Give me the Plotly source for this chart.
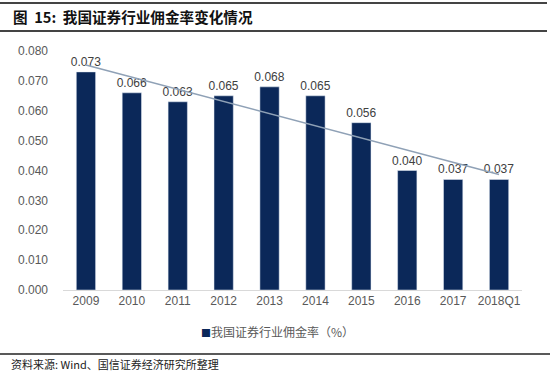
import numpy as np
import plotly.graph_objects as go

categories = ["2009", "2010", "2011", "2012", "2013", "2014", "2015", "2016", "2017", "2018Q1"]
rates = [0.073, 0.066, 0.063, 0.065, 0.068, 0.065, 0.056, 0.040, 0.037, 0.037]
tick_vals = [0.0, 0.01, 0.02, 0.03, 0.04, 0.05, 0.06, 0.07, 0.08]
tick_text = ["0.000", "0.010", "0.020", "0.030", "0.040", "0.050", "0.060", "0.070", "0.080"]
series_name = "我国证券行业佣金率（%）"

W, H = 550, 371
L, R, T, B = 63, 28, 51, 81
pw, ph = W - L - R, H - T - B

def px(x):
    return (x - L) / pw

def py(y):
    return (H - B - y) / ph

# linear trendline (regression of the data)
idx = np.arange(len(rates))
slope, intercept = np.polyfit(idx, rates, 1)
trend = [intercept + slope * i for i in idx]

BAR = "#0B2859"

fig = go.Figure()
fig.add_trace(go.Bar(
    x=categories, y=rates, name=series_name, showlegend=False,
    marker_color=BAR, width=0.42,
    text=[f"{v:.3f}" for v in rates], textposition="outside", constraintext="none",
    textfont=dict(family="Liberation Sans, Arial", size=12, color="#404040"),
    cliponaxis=False,
))
fig.add_trace(go.Scatter(
    x=categories, y=trend, mode="lines", showlegend=False,
    line=dict(color="#8FA1B6", width=1.6), hoverinfo="skip",
))

shapes = [
    dict(type="line", xref="paper", yref="paper", x0=px(0), x1=px(547), y0=py(3), y1=py(3),
         line=dict(color="#444444", width=2)),
    dict(type="line", xref="paper", yref="paper", x0=px(0), x1=px(547), y0=py(31), y1=py(31),
         line=dict(color="#444444", width=2)),
    dict(type="line", xref="paper", yref="paper", x0=px(0), x1=px(550), y0=py(354), y1=py(354),
         line=dict(color="#222222", width=1.5)),
]

annotations = [
    dict(text="<b>图  15:  我国证券行业佣金率变化情况</b>", xref="paper", yref="paper",
         x=px(11), y=py(17), xanchor="left", yanchor="middle", showarrow=False,
         font=dict(family="Noto Sans CJK SC", size=14.6, color="#111111")),
    dict(text="资料来源: Wind、国信证券经济研究所整理", xref="paper", yref="paper",
         x=px(9), y=py(364), xanchor="left", yanchor="middle", showarrow=False,
         font=dict(family="Noto Sans CJK SC", size=11, color="#222222")),
    dict(text=f"<span style='color:{BAR};font-size:10px'>■</span>{series_name}",
         xref="paper", yref="paper",
         x=px(199), y=py(331), xanchor="left", yanchor="middle", showarrow=False,
         font=dict(family="Noto Sans CJK SC", size=12, color="#595959")),
]

fig.update_layout(
    width=W, height=H,
    margin=dict(l=L, r=R, t=T, b=B, pad=0),
    paper_bgcolor="white", plot_bgcolor="white",
    shapes=shapes, annotations=annotations,
    showlegend=False,
    xaxis=dict(type="category", range=[-0.5, 9.5], showline=True, linecolor="#D9D9D9",
               linewidth=1, ticks="", showgrid=False,
               tickfont=dict(family="Liberation Sans, Arial", size=12, color="#595959")),
    yaxis=dict(range=[0, 0.08], tickvals=tick_vals, ticktext=tick_text, showgrid=False,
               zeroline=False, showline=False, ticks="", ticklabelstandoff=14,
               tickfont=dict(family="Liberation Sans, Arial", size=12, color="#595959")),
)

fig.write_html("out.html", config={"displayModeBar": False},
               post_script="document.body.style.margin='0';document.body.style.overflow='hidden';")
